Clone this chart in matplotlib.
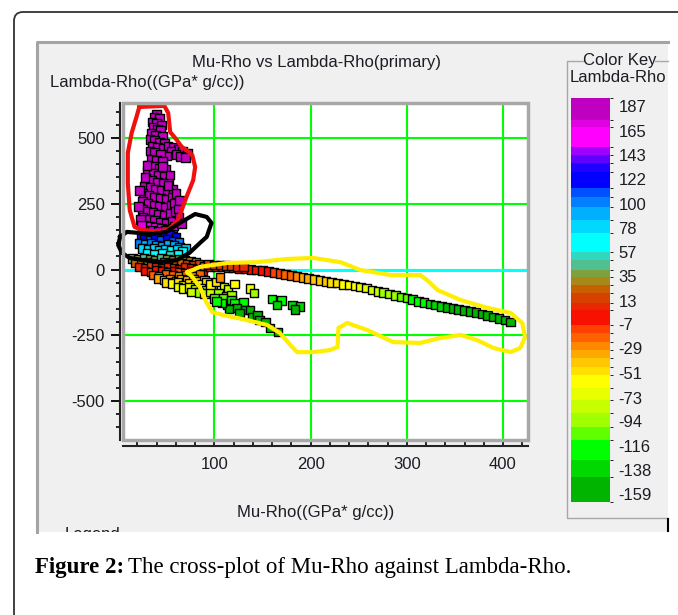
import matplotlib
matplotlib.use("Agg")
import matplotlib.pyplot as plt
import numpy as np
from matplotlib.colors import ListedColormap, BoundaryNorm
from matplotlib.patches import Rectangle, FancyBboxPatch
from matplotlib.cm import ScalarMappable

W, H = 678, 615

# upper cluster (magenta column)
mu_upper = [40, 37, 43, 35, 40, 45, 36, 41, 44, 34,
            39, 46, 33, 38, 43, 48, 35, 41, 47, 33,
            52, 57, 62, 67, 72, 55, 60, 65, 70, 50,
            38, 44, 34, 40, 46, 31, 37, 43, 49, 30,
            36, 42, 48, 29, 35, 41, 47, 53, 27, 33,
            39, 45, 51, 57, 26, 32, 38, 44, 50, 56,
            25, 31, 37, 43, 49, 55, 58, 25, 30, 36,
            42, 48, 54, 59, 26, 32, 38, 44, 50, 56,
            27, 33, 39, 45, 51, 57, 28, 35, 42, 49,
            22, 60, 64, 21, 62, 23, 63, 28, 54, 46,
            24, 58, 52, 66, 30]
lam_upper = [592, 578, 575, 560, 556, 550, 540, 535, 528, 518,
             512, 505, 495, 490, 484, 478, 470, 465, 460, 450,
             470, 465, 458, 450, 442, 448, 438, 430, 425, 432,
             444, 438, 420, 415, 410, 398, 392, 386, 380, 372,
             366, 360, 354, 345, 338, 332, 326, 335, 318, 312,
             306, 300, 296, 305, 288, 282, 276, 270, 266, 275,
             258, 252, 246, 240, 236, 244, 250, 228, 222, 216,
             210, 206, 212, 220, 198, 192, 186, 180, 176, 184,
             170, 165, 160, 156, 152, 158, 148, 150, 146, 150,
             300, 290, 262, 240, 230, 190, 200, 350, 360, 392,
             170, 166, 320, 175, 395]

# middle cluster (blue / cyan)
mu_mid = [24, 30, 36, 42, 48, 54, 60, 27, 33, 39,
          45, 51, 57, 63, 22, 28, 34, 40, 46, 52,
          58, 64, 70, 25, 31, 37, 43, 49, 55, 61,
          67, 30, 38, 46, 54, 62]
lam_mid = [132, 128, 134, 130, 126, 132, 124, 115, 112, 118,
           110, 114, 108, 104, 98, 95, 100, 94, 90, 96,
           92, 86, 82, 80, 76, 82, 74, 78, 72, 76,
           70, 62, 58, 60, 55, 58]

# base cluster near the origin (orange / red / yellow)
mu_base = [15, 21, 27, 33, 39, 45, 51, 57, 63, 69,
           75, 81, 18, 24, 30, 36, 42, 48, 54, 60,
           66, 72, 78, 84, 22, 28, 34, 40, 46, 52,
           58, 64, 70, 76, 82, 88, 28, 34, 40, 46,
           52, 58, 64, 70, 76, 82, 88, 36, 43, 50,
           57, 64, 71, 78, 85,
           42, 48, 54, 60, 66, 72, 78, 84, 90, 50,
           56, 62, 68, 74, 80, 86, 92, 62, 68, 74,
           80, 86, 92, 98, 76, 84, 90, 96]
lam_base = [42, 38, 44, 40, 36, 42, 38, 34, 40, 36,
            32, 28, 26, 22, 28, 24, 20, 26, 22, 18,
            24, 20, 16, 20, 10, 6, 12, 8, 4, 10,
            6, 2, 8, 4, 0, 6, -6, -10, -4, -8,
            -12, -6, -10, -14, -8, -12, -4, -20, -24, -18,
            -22, -26, -20, -24, -18,
            -34, -40, -36, -44, -38, -42, -36, -46, -40, -50,
            -54, -50, -58, -52, -60, -56, -50, -66, -72, -68,
            -76, -70, -78, -66, -86, -88, -92, -84]

# lower branch (yellow-green / green scatter)
mu_lower = [96, 102, 106, 110, 114, 121, 137, 141, 104, 112,
            118, 100, 109, 113, 118, 121, 130, 123, 132, 137,
            139, 145, 147, 153, 158, 166, 126, 115, 160, 170,
            165, 181, 189, 184, 108, 102]
lam_lower = [-56, -48, -30, -66, -76, -55, -72, -90, -92, -100,
             -96, -110, -108, -135, -116, -127, -124, -146, -154, -154,
             -181, -173, -192, -200, -222, -238, -165, -150, -112, -118,
             -135, -135, -140, -152, -128, -122]

# long trend toward high Mu-Rho
mu_trend = [90, 96, 102, 108, 114, 120, 126, 132, 138, 144,
            150, 156, 162, 168, 174, 180, 186, 192, 198, 204,
            210, 216, 222, 228, 234, 240, 246, 252, 258, 264,
            270, 276, 282, 288, 294, 300, 306, 312, 318, 324,
            330, 336, 342, 348, 354, 360, 366, 372, 378, 384,
            390, 396, 402, 408,
            94, 100, 106, 112, 118, 124, 130]
lam_trend = [14, 12, 10, 9, 7, 5, 3, 2, 0, -2,
             -4, -8, -11, -15, -19, -23, -27, -31, -35, -38,
             -42, -45, -49, -52, -56, -59, -63, -66, -71, -77,
             -83, -88, -93, -98, -104, -109, -115, -121, -126, -131,
             -135, -140, -144, -148, -152, -156, -159, -164, -169, -174,
             -180, -186, -192, -199,
             20, 18, 17, 15, 13, 11, 9]

# hand-drawn outlines
red_x = [22, 48, 52, 54, 61, 66, 71, 77, 80, 78, 71, 66, 62, 52, 38, 25, 17, 12, 10, 10, 14, 19]
red_y = [618, 622, 595, 523, 492, 466, 454, 435, 390, 340, 276, 226, 188, 150, 146, 150, 162, 226, 329, 443, 519, 580]
black_x = [2, 9, 22, 36, 50, 64, 80, 92, 97, 92, 85, 74, 61, 43, 25, 12, 4, 0]
black_y = [124, 143, 139, 135, 143, 177, 211, 200, 177, 124, 101, 63, 36, 28, 36, 44, 63, 93]
yellow_x = [72, 85, 113, 144, 175, 203, 231, 252, 283, 314, 321, 332, 356, 384, 408, 420, 423,
            418, 408, 390, 373, 356, 335, 314, 286, 259, 238, 229, 228, 220, 203, 186, 179,
            168, 155, 134, 109, 98, 92, 85, 77]
yellow_y = [-10, 10, 25, 28, 40, 44, 28, -2, -21, -21, -40, -78, -116, -146, -165, -203, -257,
            -298, -314, -298, -268, -249, -260, -279, -276, -230, -203, -222, -295, -306, -314,
            -314, -287, -241, -211, -192, -173, -162, -127, -67, -28]

# colour key
key_colors = ['#00b400', '#00d800', '#00ff00', '#60ff00', '#a0ff00', '#c8ff00', '#e8ff00',
              '#ffff00', '#ffe000', '#ffc800', '#ffa800', '#ff8800', '#ff6000', '#ff4000',
              '#f81000', '#e82800', '#d84000', '#c86000', '#a88818', '#80a040', '#50c090',
              '#30d8c0', '#00ffff', '#00d8ff', '#00b0ff', '#0080ff', '#0050ff', '#0000ff',
              '#2000ff', '#6000ff', '#a000ff', '#ff00ff', '#e000e0', '#c000c0']
key_bounds = [-166.1, -143.8, -128.7, -110.8, -99.2, -86.8, -75.2, -64.5, -52.9, -45.7,
              -37.7, -30.6, -23.5, -15.4, -8.3, 5.1, 11.3, 20.2, 27.4, 34.5, 40.8, 49.7,
              56.8, 73.7, 85.3, 96.9, 105.9, 113.9, 128.1, 136.2, 143.3, 150.4, 168.3,
              174.5, 194.1]
key_ticks = [187, 165, 143, 122, 100, 78, 57, 35, 13, -7, -29, -51, -73, -94, -116, -138, -159]

plt.rcParams['font.family'] = ['Liberation Sans', 'DejaVu Sans']
plt.rcParams['axes.unicode_minus'] = False
TXT = '#1c1c24'


def px_box(left, top, right, bottom):
    return [left / W, 1 - bottom / H, (right - left) / W, (bottom - top) / H]


cmap = ListedColormap(key_colors)
cmap.set_over(key_colors[-1])
cmap.set_under(key_colors[0])
norm = BoundaryNorm(key_bounds, cmap.N)

fig = plt.figure(figsize=(W / 100, H / 100), dpi=100)

# background layer in pixel coordinates
bg = fig.add_axes([0, 0, 1, 1])
bg.set_xlim(0, W)
bg.set_ylim(H, 0)
bg.axis('off')
bg.add_patch(FancyBboxPatch((14, 12), 700, 700, boxstyle="round,pad=0,rounding_size=9",
                            fill=False, ec='#333333', lw=1.3))
panel = Rectangle((36, 41), 632, 491, fc='#f0f0f0', ec='none')
bg.add_patch(panel)
bg.plot([37, 37, 668], [532, 42, 42], color='#a4a4a4', lw=2.2)
bg.plot([584, 567, 567, 668], [61, 61, 518, 518], color='#a8a8a8', lw=1)
bg.plot([655, 668], [61, 61], color='#a8a8a8', lw=1)
bg.plot([668, 668], [519, 531], color='black', lw=1.5)

bg.text(316, 62, 'Mu-Rho vs Lambda-Rho(primary)', ha='center', va='center', fontsize=12, color=TXT)
bg.text(50, 82, 'Lambda-Rho((GPa* g/cc))', ha='left', va='center', fontsize=12, color=TXT)
bg.text(316, 513, 'Mu-Rho((GPa* g/cc))', ha='center', va='center', fontsize=12, color=TXT)
bg.text(620, 60, 'Color Key', ha='center', va='center', fontsize=12, color=TXT)
for label, x0, y0, va in [('Lambda-Rho', 570, 78, 'center'), ('Legend', 65, 527, 'top')]:
    t = bg.text(x0, y0, label, ha='left', va=va, fontsize=12, color=TXT)
    t.set_clip_path(panel)
    t.set_clip_on(True)

# main scatter axes
ax = fig.add_axes(px_box(123, 103, 528, 440))
ax.set_xlim(5, 426)
ax.set_ylim(-648, 633)
ax.set_axisbelow(True)
ax.grid(True, which='major', color='#00ff00', lw=1.5)
ax.axhline(0, color='#00ffff', lw=2.2, zorder=1)

for mu, lam in [(mu_upper, lam_upper), (mu_mid, lam_mid), (mu_base, lam_base),
                (mu_lower, lam_lower), (mu_trend, lam_trend)]:
    ax.scatter(mu, lam, c=lam, cmap=cmap, norm=norm, marker='s', s=38,
               edgecolors='black', linewidths=1.0, zorder=3)

for px_, py_, col in [(red_x, red_y, '#f01010'), (black_x, black_y, 'black'),
                      (yellow_x, yellow_y, '#ffee00')]:
    ax.plot(px_ + px_[:1], py_ + py_[:1], color=col, lw=3, clip_on=False,
            zorder=4, solid_joinstyle='round')

ax.set_xticks([100, 200, 300, 400])
ax.set_xticks(np.arange(20, 427, 20), minor=True)
ax.set_yticks([-500, -250, 0, 250, 500])
ax.set_yticks(np.arange(-600, 633, 50), minor=True)
ax.spines['top'].set_visible(False)
ax.spines['right'].set_visible(False)
ax.spines['left'].set_position(('outward', 2.5))
ax.spines['bottom'].set_position(('outward', 4))
for s in ['left', 'bottom']:
    ax.spines[s].set_color('#222222')
    ax.spines[s].set_linewidth(1.5)
ax.add_patch(Rectangle((0, 0), 1, 1, transform=ax.transAxes, fill=False,
                       ec='#a8a8a8', lw=2.5, clip_on=False, zorder=5))
ax.tick_params(axis='y', which='major', direction='out', length=6.5, width=1.3, pad=4,
               labelsize=12, labelcolor=TXT)
ax.tick_params(axis='y', which='minor', direction='out', length=3, width=1.2)
ax.tick_params(axis='x', which='both', direction='in', length=3, width=1.2, pad=8,
               labelsize=12, labelcolor=TXT)

# colour key bar
cax = fig.add_axes(px_box(571, 98, 610, 502))
cb = fig.colorbar(ScalarMappable(norm=norm, cmap=cmap), cax=cax, spacing='proportional')
cb.set_ticks(key_ticks, labels=[str(k) for k in key_ticks])
cb.outline.set_visible(False)
cax.tick_params(length=0, pad=6, labelsize=12, labelcolor=TXT)

# caption
t1 = bg.text(35, 568, 'Figure 2:', fontfamily='Liberation Serif', fontweight='bold',
             fontsize=16.5, va='center', color='black')
fig.canvas.draw()
bb = t1.get_window_extent()
x_end = bg.transData.inverted().transform((bb.x1, bb.y0))[0]
bg.text(x_end + 4, 568, 'The cross-plot of Mu-Rho against Lambda-Rho.',
        fontfamily='Liberation Serif', fontsize=16.5, va='center', color='black')

fig.savefig('out.png', dpi=100)
